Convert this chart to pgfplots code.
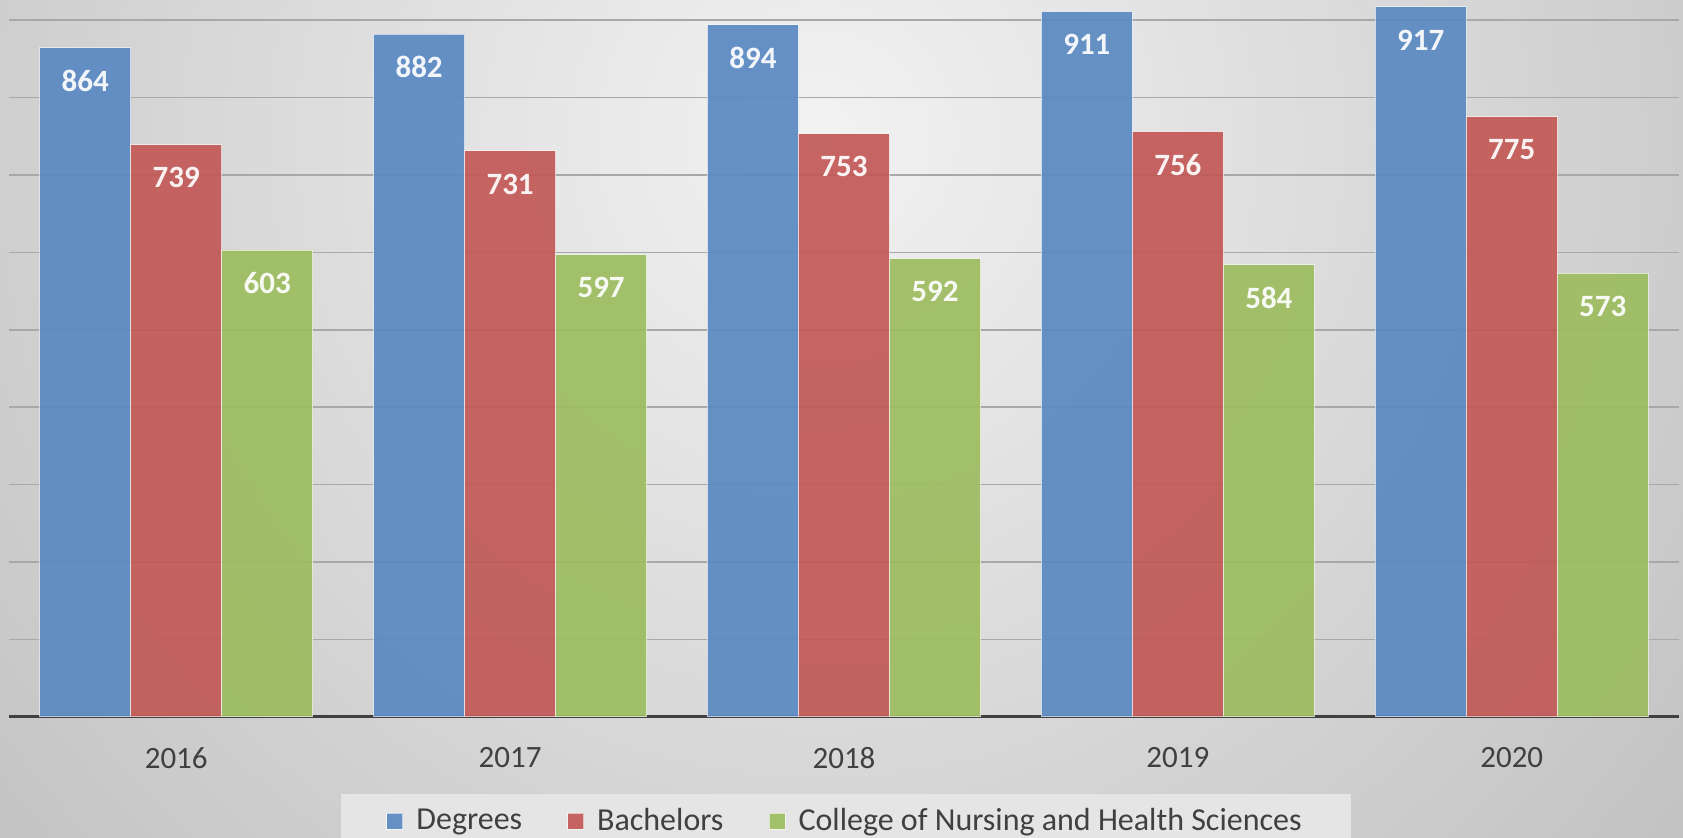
\documentclass[border=0pt]{standalone}
\usepackage{fontspec}
\setmainfont{Carlito}
\usepackage{pgfplots}
\pgfplotsset{compat=1.18}

% colours (before opacity)
\definecolor{degblue}{HTML}{5A89C2}
\definecolor{bachred}{HTML}{C25956}
\definecolor{nursgreen}{HTML}{9DBC60}
\definecolor{txtgray}{HTML}{404040}
\definecolor{gridgray}{HTML}{A8A8A8}

\pgfplotstableread{
x year Degrees Bachelors Nursing
0 2016 864 739 603
1 2017 882 731 597
2 2018 894 753 592
3 2019 911 756 584
4 2020 917 775 573
}\grads

\begin{document}
\begin{tikzpicture}
% 1 px of the reference = 0.5pt
\useasboundingbox (0,0) rectangle (841.5pt,419pt);
\clip (0,0) rectangle (841.5pt,419pt);
\shade[inner color=black!5, outer color=black!24] (410pt,350pt) circle (560pt);

\begin{axis}[
    at={(4.65pt,60.5pt)}, anchor=south west,
    scale only axis,
    width=834.7pt, height=358.5pt,
    ybar=0pt, bar width=45.5pt,
    xmin=-0.5, xmax=4.5,
    ymin=0, ymax=926,
    axis x line*=bottom, axis y line*=left,
    x axis line style={line width=1.5pt, color=txtgray, -},
    y axis line style={draw=none},
    xtick=data, xticklabels={2016,2017,2018,2019,2020},
    ytick={100,200,...,900}, yticklabels={},
    major tick length=0pt,
    ymajorgrids, grid style={line width=0.8pt, color=gridgray},
    xticklabel style={font=\fontsize{15.5}{18}\selectfont, text=txtgray, anchor=center, yshift=-20.5pt},
    /pgf/number format/assume math mode=true,
    clip=false,
    nodes near coords,
    every node near coord/.append style={font=\fontsize{15.5}{18}\selectfont\bfseries, text=white, anchor=center, yshift=-16.5pt},
    legend columns=-1,
    legend image code/.code={\fill[#1] (0pt,-4pt) rectangle (8pt,4pt);},
    legend style={at={(0.1987,-0.1074)}, anchor=north west, fill=black!10, draw=none,
        font=\fontsize{16}{19}\selectfont, text=txtgray,
        inner xsep=22.5pt, inner ysep=5pt,
        /tikz/every odd column/.append style={column sep=4.5pt},
        /tikz/every even column/.append style={column sep=20.5pt}},
]
\addplot[fill=degblue, fill opacity=0.92, draw=white, draw opacity=0.6, line width=0.5pt] table[x=x, y=Degrees] {\grads};
\addplot[fill=bachred, fill opacity=0.92, draw=white, draw opacity=0.6, line width=0.5pt] table[x=x, y=Bachelors] {\grads};
\addplot[fill=nursgreen, fill opacity=0.92, draw=white, draw opacity=0.6, line width=0.5pt] table[x=x, y=Nursing] {\grads};
\legend{Degrees, Bachelors, College of Nursing and Health Sciences}
\end{axis}
\end{tikzpicture}
\end{document}
